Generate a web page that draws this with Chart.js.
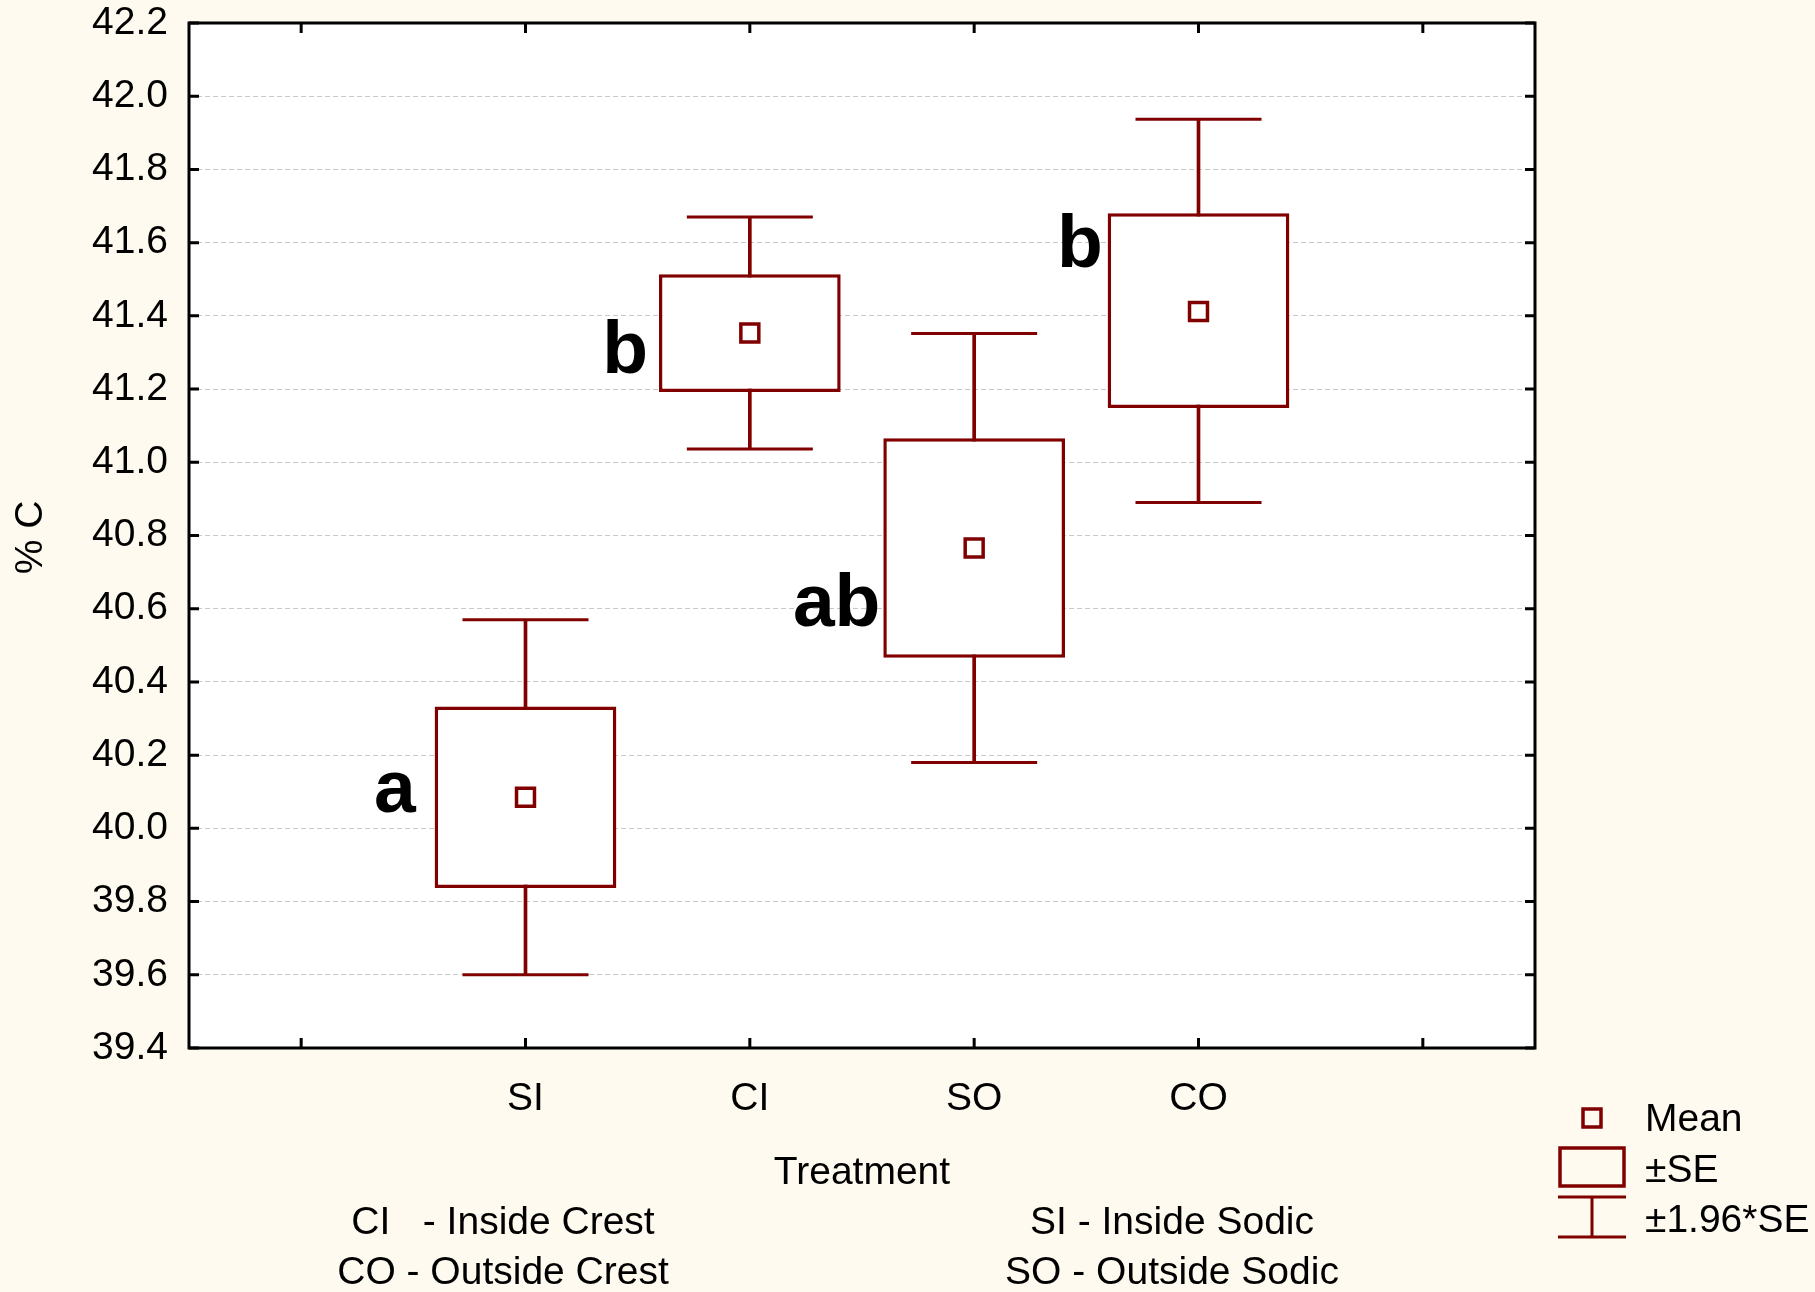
<!DOCTYPE html>
<html lang="en">

<head>
    <meta charset="UTF-8">
    <title>% C by Treatment</title>
    <script src="https://cdn.jsdelivr.net/npm/chart.js"></script>
    <style>
        body {
            margin: 0;
            background: #FFFAF0;
        }
    </style>
</head>

<body>
    <canvas id="grafico" width="1815" height="1292"></canvas>

<script>
    // empty slots at both ends keep the outer tick marks like the original plot
    var treatments = ['', 'SI', 'CI', 'SO', 'CO', ''];
    var means = [null, 40.085, 41.353, 40.766, 41.412, null];
    var seLow = [null, 39.837, 41.192, 40.466, 41.148, null];
    var seHigh = [null, 40.333, 41.514, 41.066, 41.680, null];
    var ciLow = [null, 39.600, 41.036, 40.180, 40.890, null];
    var ciHigh = [null, 40.570, 41.670, 41.352, 41.937, null];
    var groupLetters = ['', 'a', 'b', 'ab', 'b', ''];
    var letterBase = [null, 40.045, 41.244, 40.553, 41.534, null];
    var yTicks = { min: 39.4, max: 42.2, step: 0.2 };

    var vermelho = '#800000';
    var fonte = '"Liberation Sans", Arial, sans-serif';

    Chart.defaults.font.family = fonte;
    Chart.defaults.color = '#000';

    function pares(a, b) {
        return a.map(function (v, i) {
            return v == null ? null : [v, b[i]];
        });
    }

    // background, frame, inward ticks, labels and the custom legend
    var moldura = {
        id: 'moldura',
        beforeDraw: function (chart) {
            var ctx = chart.ctx;
            var area = chart.chartArea;
            ctx.save();
            ctx.fillStyle = '#FFFAF0';
            ctx.fillRect(0, 0, chart.width, chart.height);
            ctx.fillStyle = '#fff';
            ctx.fillRect(area.left, area.top, area.right - area.left, area.bottom - area.top);
            ctx.restore();
        },
        afterDraw: function (chart, args, opts) {
            var ctx = chart.ctx;
            var area = chart.chartArea;
            var xs = chart.scales.x;
            var ys = chart.scales.y;
            var tk = 10;

            ctx.save();
            ctx.strokeStyle = '#000';
            ctx.lineWidth = 3;
            ctx.strokeRect(area.left, area.top, area.right - area.left, area.bottom - area.top);

            ctx.beginPath();
            for (var i = 0; i < treatments.length; i++) {
                var px = xs.getPixelForValue(i);
                ctx.moveTo(px, area.bottom);
                ctx.lineTo(px, area.bottom - tk);
                ctx.moveTo(px, area.top);
                ctx.lineTo(px, area.top + tk);
            }
            ys.ticks.forEach(function (t) {
                var py = ys.getPixelForValue(t.value);
                ctx.moveTo(area.left, py);
                ctx.lineTo(area.left + tk, py);
                ctx.moveTo(area.right, py);
                ctx.lineTo(area.right - tk, py);
            });
            ctx.stroke();

            // group letters next to each box
            var slot = xs.getPixelForValue(1) - xs.getPixelForValue(0);
            ctx.fillStyle = '#000';
            ctx.font = 'bold 75px ' + fonte;
            ctx.textAlign = 'right';
            ctx.textBaseline = 'alphabetic';
            for (var j = 0; j < groupLetters.length; j++) {
                if (!groupLetters[j]) continue;
                var lx = xs.getPixelForValue(j) - slot * 0.4 - opts.letterGap[j];
                ctx.fillText(groupLetters[j], lx, ys.getPixelForValue(letterBase[j]));
            }

            // axis titles and footnote
            ctx.font = '39px ' + fonte;
            ctx.textAlign = 'center';
            ctx.textBaseline = 'middle';
            var meio = (area.left + area.right) / 2;
            ctx.fillText('Treatment', meio, area.bottom + 125);
            ctx.fillText('CI   - Inside Crest', 503, area.bottom + 175);
            ctx.fillText('CO - Outside Crest', 503, area.bottom + 225);
            ctx.fillText('SI - Inside Sodic', 1172, area.bottom + 175);
            ctx.fillText('SO - Outside Sodic', 1172, area.bottom + 225);

            ctx.save();
            ctx.translate(31, (area.top + area.bottom) / 2 + 2);
            ctx.rotate(-Math.PI / 2);
            ctx.fillText('% C', 0, 0);
            ctx.restore();

            // legend
            var cx = area.right + 57;
            var top = area.bottom;
            ctx.strokeStyle = vermelho;
            ctx.lineWidth = 3.5;
            ctx.strokeRect(cx - 9, top + 61, 18, 18);
            ctx.strokeRect(cx - 32, top + 100, 64, 38);
            ctx.lineWidth = 3;
            ctx.beginPath();
            ctx.moveTo(cx - 34, top + 149);
            ctx.lineTo(cx + 34, top + 149);
            ctx.moveTo(cx, top + 149);
            ctx.lineTo(cx, top + 189);
            ctx.moveTo(cx - 34, top + 189);
            ctx.lineTo(cx + 34, top + 189);
            ctx.stroke();

            ctx.fillStyle = '#000';
            ctx.textAlign = 'left';
            ctx.fillText('Mean', cx + 53, top + 72);
            ctx.fillText('\u00b1SE', cx + 53, top + 123);
            ctx.fillText('\u00b11.96*SE', cx + 53, top + 173);
            ctx.restore();
        }
    };

    var ctx = document.getElementById('grafico');

    var grafico = new Chart(ctx, {
        type: 'bar',
        data: {
            labels: treatments,
            datasets: [
                {
                    // whisker stems, drawn under the boxes
                    type: 'bar',
                    data: pares(ciLow, ciHigh),
                    backgroundColor: vermelho,
                    borderWidth: 0,
                    barThickness: 3,
                    grouped: false,
                    order: 4
                },
                {
                    // mean +/- SE boxes
                    type: 'bar',
                    data: pares(seLow, seHigh),
                    backgroundColor: '#fff',
                    borderColor: vermelho,
                    borderWidth: 3.5,
                    borderSkipped: false,
                    barPercentage: 0.81,
                    categoryPercentage: 1,
                    grouped: false,
                    order: 3
                },
                {
                    type: 'line',
                    data: ciLow,
                    showLine: false,
                    pointStyle: 'line',
                    pointRadius: 63,
                    pointBorderWidth: 3,
                    pointBorderColor: vermelho,
                    order: 2
                },
                {
                    type: 'line',
                    data: ciHigh,
                    showLine: false,
                    pointStyle: 'line',
                    pointRadius: 63,
                    pointBorderWidth: 3,
                    pointBorderColor: vermelho,
                    order: 2
                },
                {
                    type: 'line',
                    data: means,
                    showLine: false,
                    pointStyle: 'rect',
                    pointRadius: 12.7,
                    pointBorderWidth: 3.5,
                    pointBorderColor: vermelho,
                    pointBackgroundColor: '#fff',
                    order: 1
                }
            ]
        },
        options: {
            responsive: false,
            animation: false,
            events: [],
            layout: {
                autoPadding: false,
                padding: { left: 0, top: 23, right: 280, bottom: 0 }
            },
            plugins: {
                legend: { display: false },
                tooltip: { enabled: false },
                moldura: { letterGap: [0, 20, 12, 4, 6, 0] }
            },
            scales: {
                x: {
                    grid: { display: false },
                    border: { display: false },
                    ticks: {
                        font: { size: 39 },
                        color: '#000',
                        padding: 20
                    },
                    afterFit: function (scale) {
                        scale.height = 244;
                        scale.paddingLeft = 0;
                        scale.paddingRight = 0;
                    }
                },
                y: {
                    min: yTicks.min,
                    max: yTicks.max,
                    grid: {
                        color: '#c8c8c8',
                        lineWidth: 1,
                        drawTicks: false
                    },
                    border: { display: false, dash: [5, 3] },
                    ticks: {
                        stepSize: yTicks.step,
                        font: { size: 39, lineHeight: 1.1 },
                        color: '#000',
                        padding: 21,
                        callback: function (v) {
                            return Number(v).toFixed(1);
                        }
                    },
                    afterFit: function (scale) {
                        scale.width = 189;
                        scale.paddingTop = 0;
                        scale.paddingBottom = 0;
                    }
                }
            }
        },
        plugins: [moldura]
    });
</script>
</body>

</html>
